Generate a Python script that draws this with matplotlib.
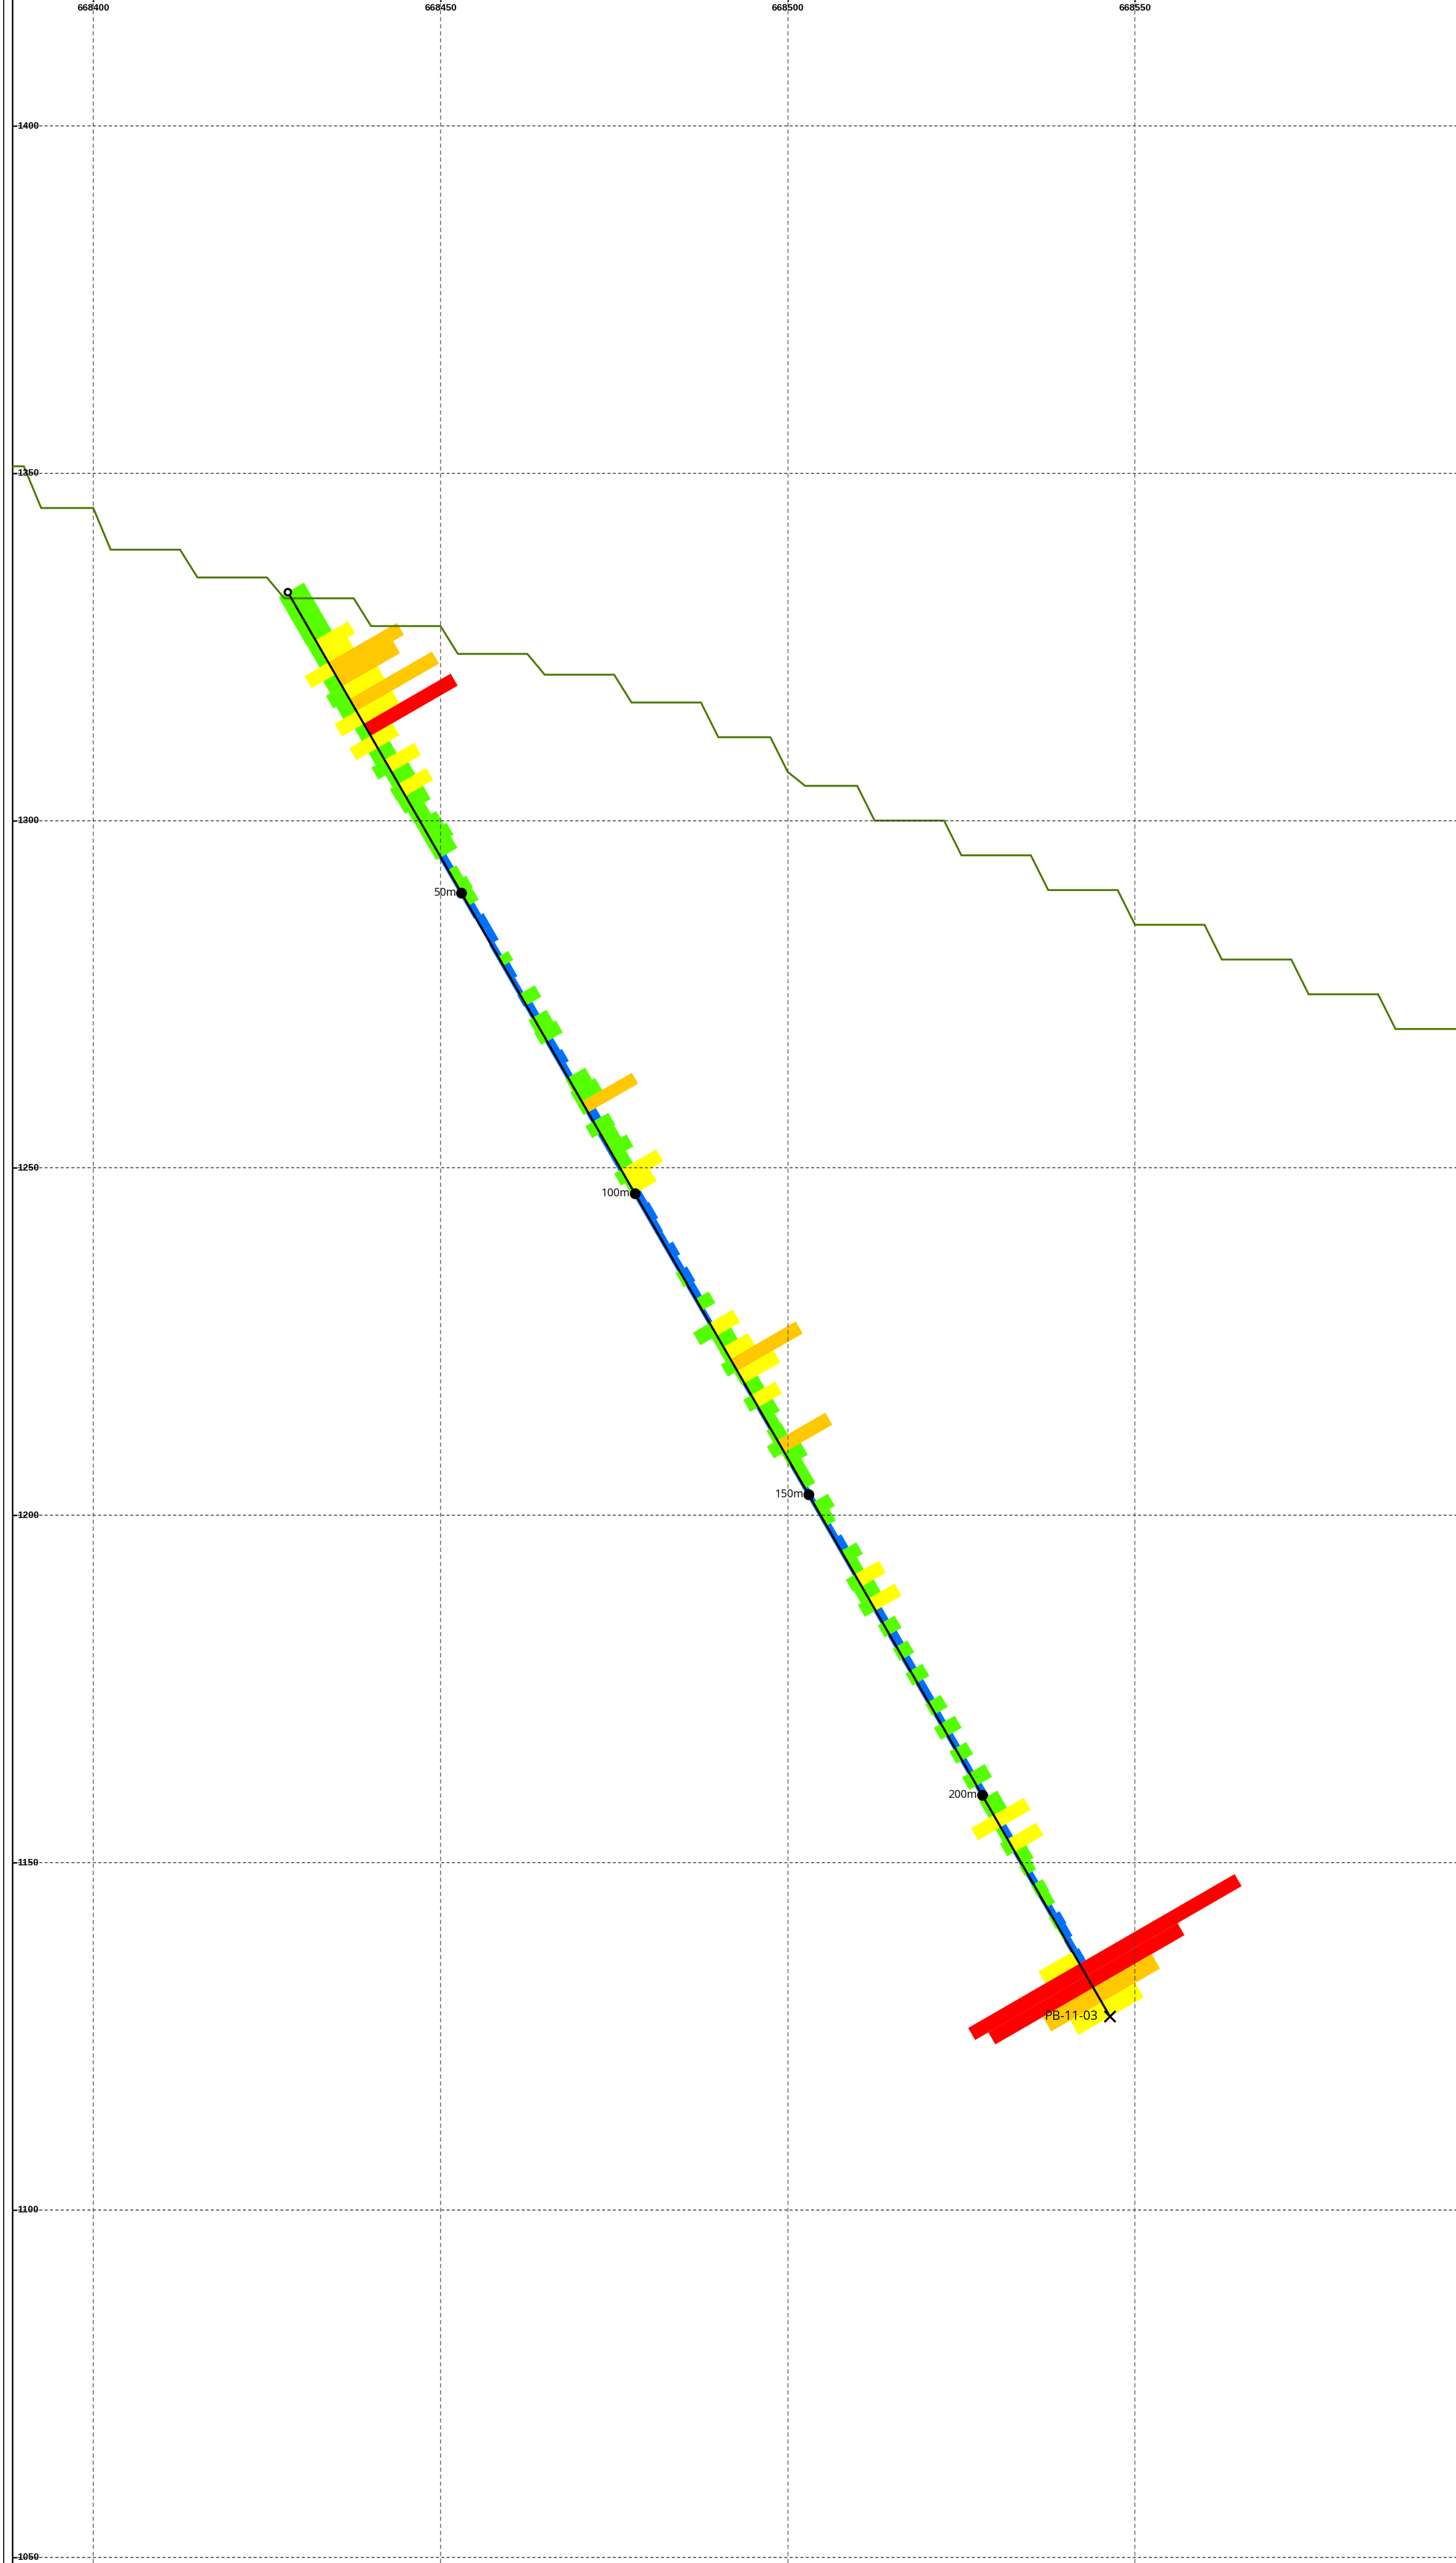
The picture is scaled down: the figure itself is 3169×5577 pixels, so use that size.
import numpy as np
import matplotlib
matplotlib.use("Agg")
import matplotlib.pyplot as plt
from matplotlib.patches import Polygon
from matplotlib.lines import Line2D

# ---------------- drillhole PB-11-03 ----------------
hole_id = "PB-11-03"
collar_x, collar_y = 668428.0, 1332.9
dip_deg = 60.0
hole_length = 236.8
depth_marks = [50, 100, 150, 200]

# ---------------- topographic surface (benched pit wall) ----------------
topo_x = [668388.4, 668390.0, 668392.5, 668400.0, 668402.5, 668412.5, 668415.0,
          668425.0, 668427.5, 668437.5, 668440.0, 668450.0, 668452.5, 668462.5,
          668465.0, 668475.0, 668477.5, 668487.5, 668490.0, 668497.5, 668500.0,
          668502.5, 668510.0, 668512.5, 668522.5, 668525.0, 668535.0, 668537.5,
          668547.5, 668550.0, 668560.0, 668562.5, 668572.5, 668575.0, 668585.0,
          668587.5, 668597.0]
topo_y = [1351.0, 1351.0, 1345.0, 1345.0, 1339.0, 1339.0, 1335.0,
          1335.0, 1332.0, 1332.0, 1328.0, 1328.0, 1324.0, 1324.0,
          1321.0, 1321.0, 1317.0, 1317.0, 1312.0, 1312.0, 1307.0,
          1305.0, 1305.0, 1300.0, 1300.0, 1295.0, 1295.0, 1290.0,
          1290.0, 1285.0, 1285.0, 1280.0, 1280.0, 1275.0, 1275.0,
          1270.0, 1270.0]

# ---------------- sample intervals (m along hole) ----------------
sample_from = [0.0, 2.0, 4.0, 6.0, 8.0, 10.0, 11.7, 13.7, 15.7, 17.8,
               19.8, 21.9, 23.9, 25.9, 27.9, 29.9, 31.9, 33.9, 36.1, 38.0,
               40.2, 42.2, 44.1, 46.2, 48.2, 50.1, 52.1, 54.1, 56.3, 58.5,
               60.6, 62.1, 64.4, 66.8, 68.7, 70.7, 72.7, 74.7, 76.7, 78.7,
               80.7, 82.7, 84.7, 86.5, 88.0, 90.0, 92.0, 94.0, 96.0, 98.0,
               100.0, 102.0, 104.7, 106.7, 108.7, 110.8, 112.8, 115.2, 117.5, 119.4,
               121.5, 123.6, 125.5, 127.5, 129.5, 131.5, 133.5, 135.5, 137.5, 139.0,
               141.0, 143.0, 145.0, 147.0, 149.0, 151.3, 153.3, 155.2, 157.3, 159.4,
               161.3, 163.3, 165.3, 167.3, 169.3, 171.3, 173.3, 175.3, 177.3, 179.3,
               181.3, 184.5, 186.5, 188.1, 190.1, 192.2, 194.2, 196.3, 198.4, 200.5,
               203.3, 205.3, 207.3, 209.4, 211.5, 213.1, 214.8, 216.7, 218.6, 220.0,
               222.0, 224.0, 226.0, 228.0, 230.0, 232.0, 234.4]
sample_to = sample_from[1:] + [236.8]

# left-hand histogram (bar length in m, grade class)
left_len = [1.5, 1.5, 1.5, 1.5, 1.45, 1.45, 3.95, 2.0, 2.7, 2.2,
            3.65, 1.5, 3.56, 1.5, 2.2, 1.0, 1.45, 1.35, 0.86, 0.8,
            0.8, 0.78, 0.3, 0.3, 0.3, 0.3, 0.3, 0.2, 0.2, 0.3,
            0.3, 0.3, 0.3, 0.4, 0.3, 0.8, 1.0, 0.3, 0.3, 0.3,
            0.45, 0.76, 0.76, 0.3, 1.35, 0.4, 0.4, 0.4, 1.15, 0.5,
            0.3, 0.3, 0.3, 0.3, 0.3, 0.3, 0.63, 0.3, 0.3, 0.3,
            2.77, 0.8, 0.82, 1.6, 0.5, 0.3, 1.35, 0.3, 0.3, 0.67,
            1.75, 0.42, 0.3, 0.3, 0.3, 0.3, 0.3, 0.3, 0.3, 0.3,
            0.3, 1.5, 1.3, 1.8, 0.3, 0.8, 0.3, 0.6, 0.3, 0.8,
            0.3, 0.53, 0.3, 1.17, 0.3, 0.96, 0.3, 1.23, 0.3, 0.8,
            3.75, 0.8, 1.27, 0.3, 0.5, 0.3, 0.42, 0.3, 0.3, 0.47,
            0.3, 0.3, 5.68, 18.5, 16.3, 8.4, 5.25]
left_class = ["g", "g", "g", "g", "g", "g", "y", "g", "g", "g",
              "y", "g", "y", "g", "g", "g", "g", "g", "g", "g",
              "g", "g", "b", "b", "b", "b", "b", "b", "b", "b",
              "b", "b", "b", "b", "b", "g", "g", "b", "b", "b",
              "g", "g", "g", "b", "g", "b", "b", "b", "g", "g",
              "b", "b", "b", "b", "b", "b", "g", "b", "b", "b",
              "g", "g", "g", "g", "g", "b", "g", "b", "b", "g",
              "g", "g", "b", "b", "b", "b", "b", "b", "b", "b",
              "b", "g", "g", "g", "b", "g", "b", "g", "b", "g",
              "b", "g", "b", "g", "b", "g", "b", "g", "b", "g",
              "y", "g", "g", "b", "g", "b", "g", "b", "b", "g",
              "g", "b", "y", "r", "r", "o", "y"]

# right-hand histogram (bar length in m, grade class)
right_len = [2.7, 2.7, 2.7, 2.7, 5.4, 4.2, 11.4, 9.6, 5.85, 13.7,
             5.9, 14.45, 3.6, 2.0, 4.9, 2.8, 4.6, 2.93, 1.9, 2.75,
             3.2, 2.75, 0.9, 1.37, 1.83, 1.67, 0.9, 1.3, 1.3, 0.6,
             1.65, 1.0, 0.6, 2.5, 1.0, 2.2, 2.6, 1.0, 1.3, 0.8,
             2.85, 3.35, 8.3, 1.28, 2.5, 2.3, 3.2, 1.95, 5.83, 3.6,
             0.94, 1.15, 0.81, 0.7, 1.28, 0.83, 1.25, 1.0, 2.15, 0.46,
             3.85, 2.35, 4.05, 10.85, 6.0, 2.2, 3.95, 2.42, 1.6, 1.72,
             7.97, 2.74, 1.68, 1.68, 0.5, 2.45, 1.53, 0.7, 1.2, 2.5,
             1.5, 4.0, 2.0, 4.3, 1.0, 2.0, 1.2, 1.8, 1.0, 2.0,
             1.0, 2.04, 0.8, 2.3, 0.8, 1.83, 0.7, 2.55, 0.8, 2.2,
             5.0, 0.9, 4.75, 1.9, 1.4, 0.8, 1.5, 1.37, 0.8, 1.3,
             1.15, 0.8, 1.05, 25.8, 15.15, 9.7, 5.6]
right_class = ["g", "g", "g", "g", "y", "y", "o", "o", "y", "o",
               "y", "r", "y", "g", "y", "g", "y", "g", "g", "g",
               "g", "g", "b", "g", "g", "g", "b", "b", "b", "b",
               "g", "b", "b", "g", "b", "g", "g", "b", "b", "b",
               "g", "g", "o", "b", "g", "g", "g", "g", "y", "y",
               "b", "b", "b", "b", "b", "b", "b", "b", "g", "b",
               "y", "g", "y", "o", "y", "g", "y", "g", "g", "g",
               "o", "g", "g", "g", "b", "g", "g", "b", "b", "g",
               "g", "y", "g", "y", "b", "g", "b", "g", "b", "g",
               "b", "g", "b", "g", "b", "g", "b", "g", "b", "g",
               "y", "b", "y", "g", "g", "b", "g", "g", "b", "b",
               "b", "b", "b", "r", "r", "o", "y"]

grade_colors = {"b": "#0070FF", "g": "#55FF00", "y": "#FFFF00",
                "o": "#FFC800", "r": "#FF0000"}

x_ticks = [668400, 668450, 668500, 668550]
y_ticks = [1050, 1100, 1150, 1200, 1250, 1300, 1350, 1400]

# ---------------- figure ----------------
W, H, DPI = 3169, 5577, 100
PX_PER_M = 15.116
AX_LEFT = 27
fig = plt.figure(figsize=(W / DPI, H / DPI), dpi=DPI, facecolor="white")
ax = fig.add_axes([AX_LEFT / W, 0, 1 - AX_LEFT / W, 1])
x_min = 668400 - (203 - AX_LEFT) / PX_PER_M
x_max = 668400 + (W - 203) / PX_PER_M
y_max = 1400 + 274 / PX_PER_M
y_min = 1400 - (H - 274) / PX_PER_M
ax.set_xlim(x_min, x_max)
ax.set_ylim(y_min, y_max)
ax.set_facecolor("white")

for side in ("top", "right", "bottom"):
    ax.spines[side].set_visible(False)
ax.spines["left"].set_linewidth(2.4)
ax.set_xticks(x_ticks)
ax.set_yticks(y_ticks)
ax.set_xticklabels([])
ax.set_yticklabels([])
ax.tick_params(axis="y", direction="in", length=7, width=2.4, left=True)
ax.tick_params(axis="x", direction="in", length=3, width=2.4,
               top=True, bottom=False)

# outer frame line
fig.add_artist(Line2D([8 / W, 8 / W], [0, 1], transform=fig.transFigure,
                      color="black", lw=1.6))

# grid
for xv in x_ticks:
    ax.axvline(xv, color="#444444", lw=1.1, ls=(0, (6, 4)), zorder=6)
for yv in y_ticks:
    ax.axhline(yv, color="#222222", lw=1.2, ls=(0, (4, 3)), zorder=6)

# tick labels drawn inside the frame
tick_font = dict(family=["Liberation Sans", "DejaVu Sans"], fontweight="bold",
                 fontsize=15, color="black")
for xv in x_ticks:
    ax.text(xv, 1 - 17.5 / H, f"{xv}", transform=ax.get_xaxis_transform(),
            ha="center", va="center", zorder=8, **tick_font)
for yv in y_ticks:
    ax.text(12 / (W - AX_LEFT), yv, f"{yv}", transform=ax.get_yaxis_transform(),
            ha="left", va="center", zorder=8, **tick_font)

# hole geometry
dip = np.radians(dip_deg)
u = np.array([np.cos(dip), -np.sin(dip)])   # down-hole direction
v = np.array([np.sin(dip), np.cos(dip)])    # perpendicular (hanging-wall side)
c0 = np.array([collar_x, collar_y])


def at(depth, offset=0.0):
    return c0 + depth * u + offset * v


# grade histograms on both sides of the trace
for d0, d1, ln, cl in zip(sample_from, sample_to, left_len, left_class):
    poly = [at(d0, 0), at(d1, 0), at(d1, -ln), at(d0, -ln)]
    ax.add_patch(Polygon(poly, closed=True, facecolor=grade_colors[cl],
                         edgecolor="none", lw=0, zorder=2))
for d0, d1, ln, cl in zip(sample_from, sample_to, right_len, right_class):
    poly = [at(d0, 0), at(d1, 0), at(d1, ln), at(d0, ln)]
    ax.add_patch(Polygon(poly, closed=True, facecolor=grade_colors[cl],
                         edgecolor="none", lw=0, zorder=3))

# topography
ax.plot(topo_x, topo_y, color="#4F7A00", lw=3.0, zorder=4,
        solid_joinstyle="miter")

# trace
p_top, p_end = at(0), at(hole_length)
ax.plot([p_top[0], p_end[0]], [p_top[1], p_end[1]], color="black", lw=3.3,
        zorder=7, solid_capstyle="butt")

# collar and end of hole
ax.plot(*p_top, marker="o", ms=10, mfc="white", mec="black", mew=3.4, zorder=9)
ax.plot(*p_end, marker="x", ms=17, mec="black", mew=3.2, zorder=9)
label_font = dict(family=["Open Sans", "DejaVu Sans"], color="black")
ax.annotate(hole_id, xy=p_end, xytext=(-19, 0), textcoords="offset points",
            ha="right", va="center", fontsize=20, zorder=9, **label_font)

# depth ticks
for dm in depth_marks:
    p = at(dm)
    ax.plot(*p, marker="o", ms=16, mfc="black", mec="black", zorder=9)
    ax.annotate(f"{dm}m", xy=p, xytext=(-8, 0), textcoords="offset points",
                ha="right", va="center", fontsize=17, zorder=5, **label_font)

fig.savefig("out.png", dpi=DPI, facecolor="white")
